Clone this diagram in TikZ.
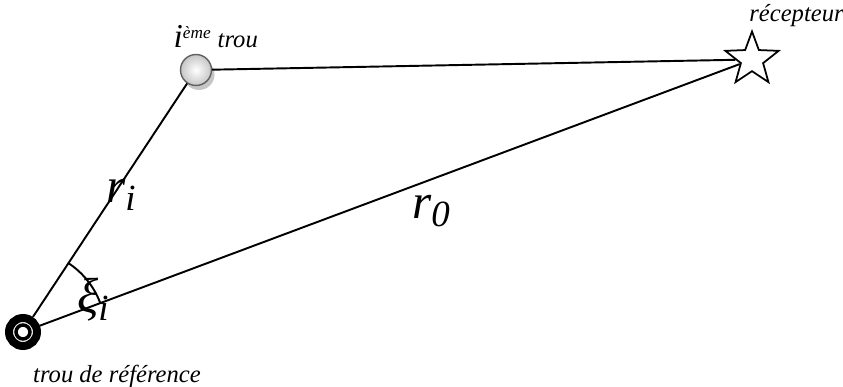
\documentclass[tikz,border=0pt]{standalone}
\usepackage{fontspec}
\setmainfont{Liberation Serif}
\usetikzlibrary{positioning,shapes.geometric,shadows}
\newcommand{\indbas}[1]{\raisebox{-0.35ex}{\fontsize{21}{22}\selectfont #1}}

\begin{document}
\begin{tikzpicture}[
    reftrou/.style={circle, draw, line width=1.6mm, inner sep=0pt, minimum size=0.56cm},
    trou/.style={circle, draw=gray!75!black, thick, inner sep=0pt, minimum size=0.62cm,
        inner color=white, outer color=gray!45,
        drop shadow={shadow xshift=0.06cm, shadow yshift=-0.09cm, fill=gray!45, opacity=1}},
    recep/.style={star, star points=5, star point ratio=2.4, draw, line width=1pt, fill=white,
        inner sep=0pt, minimum size=1.12cm},
    seg/.style={line width=1.1pt},
    txt/.style={font=\fontsize{14}{16}\selectfont\itshape},
    dist/.style={font=\fontsize{28}{30}\selectfont\itshape},
]
\useasboundingbox (0,0) rectangle (16.86,7.74);

% === holes and receiver ===
\node[reftrou] (ref) at (0.46,1.10) {};
\draw[line width=0.7mm] (ref.center) circle (0.14cm);
\node[trou] (trou) at (3.92,6.34) {};
\node[recep] (rec) at (15.04,6.55) {};

% === distances ===
\draw[seg] (ref) -- (trou);
\draw[seg] (trou) -- (rec);
\draw[seg] (ref) -- (rec);
\draw[seg] ([shift={(56.6:1.65)}]ref.center) arc (56.6:20.6:1.65);

% === labels ===
\node[txt] (reflabel) at (2.34,0.22) {trou de référence};
\node[txt, anchor=south west] (troulabel) at (3.35,6.66) {{\fontsize{19}{19}\selectfont i}\textsuperscript{ème} trou};
\node[txt, anchor=south] (reclabel) at (15.93,7.08) {récepteur};
\node[dist] (ri) at (2.42,3.85) {r\indbas{i}};
\node[dist] (ro) at (8.62,3.52) {r\indbas{0}};
\node[dist] (xi) at (1.86,1.75) {ξ\indbas{i}};

\end{tikzpicture}
\end{document}
